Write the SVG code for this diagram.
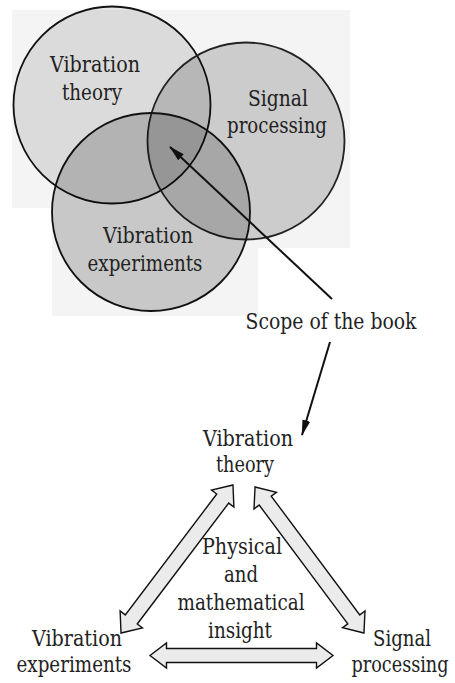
<svg xmlns="http://www.w3.org/2000/svg" width="455" height="683" viewBox="0 0 455 683">
<style>
text{font-family:'DejaVu Serif','Liberation Serif','Noto Serif',serif;font-size:21.5px;fill:#222;text-anchor:middle}
.c{stroke-width:1.8}
.blk{fill:#ebebeb;stroke:#111;stroke-width:1.4;stroke-linejoin:miter}
.ln{stroke:#111;stroke-width:2;fill:none}
</style>
<defs>
<marker id="ah" markerUnits="userSpaceOnUse" markerWidth="16" markerHeight="10" viewBox="0 0 16 10" refX="15" refY="5" orient="auto">
<path d="M0,1 L16,5 L0,9 Z" fill="#111"/>
</marker>
</defs>
<rect width="455" height="683" fill="#fff"/>
<path d="M12,10 H350 V248 H258 V316 H52 V208 H12 Z" fill="#f4f4f4"/>
<g id="circle-theory"><circle class="c" cx="112" cy="105" r="98.5" fill="#000" fill-opacity="0.1" stroke="#111"/>
<text x="95" y="72" textLength="90" lengthAdjust="spacingAndGlyphs">Vibration</text><text x="92" y="100" textLength="60" lengthAdjust="spacingAndGlyphs">theory</text></g>
<g id="circle-signal"><circle class="c" cx="246" cy="141" r="98.5" fill="#000" fill-opacity="0.16" stroke="#222"/>
<text x="278" y="106" textLength="60" lengthAdjust="spacingAndGlyphs">Signal</text><text x="277" y="133" textLength="100" lengthAdjust="spacingAndGlyphs">processing</text></g>
<g id="circle-experiments"><circle class="c" cx="151" cy="212" r="99" fill="#000" fill-opacity="0.18" stroke="#111"/>
<text x="148" y="243" textLength="90" lengthAdjust="spacingAndGlyphs">Vibration</text><text x="145" y="271" textLength="115" lengthAdjust="spacingAndGlyphs">experiments</text></g>
<g id="scope"><text x="331" y="329" textLength="171" lengthAdjust="spacingAndGlyphs">Scope of the book</text></g>
<g id="node-theory"><text x="248" y="446" textLength="90" lengthAdjust="spacingAndGlyphs">Vibration</text><text x="245" y="472" textLength="58" lengthAdjust="spacingAndGlyphs">theory</text></g>
<g id="node-experiments"><text x="77" y="646" textLength="90" lengthAdjust="spacingAndGlyphs">Vibration</text><text x="74" y="672" textLength="115" lengthAdjust="spacingAndGlyphs">experiments</text></g>
<g id="node-signal"><text x="402" y="646" textLength="58" lengthAdjust="spacingAndGlyphs">Signal</text><text x="400" y="672" textLength="97" lengthAdjust="spacingAndGlyphs">processing</text></g>
<g id="insight"><text x="242" y="554" textLength="80" lengthAdjust="spacingAndGlyphs">Physical</text><text x="241" y="582" textLength="34" lengthAdjust="spacingAndGlyphs">and</text><text x="241" y="610" textLength="127" lengthAdjust="spacingAndGlyphs">mathematical</text><text x="240" y="638" textLength="64" lengthAdjust="spacingAndGlyphs">insight</text></g>
<g id="connectors">
<line class="ln" x1="332" y1="299" x2="170" y2="147" marker-end="url(#ah)"/>
<line class="ln" x1="330" y1="342" x2="302" y2="435" marker-end="url(#ah)"/>
<path class="blk" transform="translate(177 559) rotate(127.1)" d="M-92.8,0 L-75.8,-14 L-75.8,-7.5 L75.8,-7.5 L75.8,-14 L92.8,0 L75.8,14 L75.8,7.5 L-75.8,7.5 L-75.8,14 Z"/>
<path class="blk" transform="translate(309.5 560) rotate(53.3)" d="M-91.1,0 L-74.1,-14 L-74.1,-7.5 L74.1,-7.5 L74.1,-14 L91.1,0 L74.1,14 L74.1,7.5 L-74.1,7.5 L-74.1,14 Z"/>
<path class="blk" transform="translate(241.5 655.5)" d="M-91.5,0 L-75,-12.5 L-75,-7 L75,-7 L75,-12.5 L91.5,0 L75,12.5 L75,7 L-75,7 L-75,12.5 Z"/>
</g>
</svg>
